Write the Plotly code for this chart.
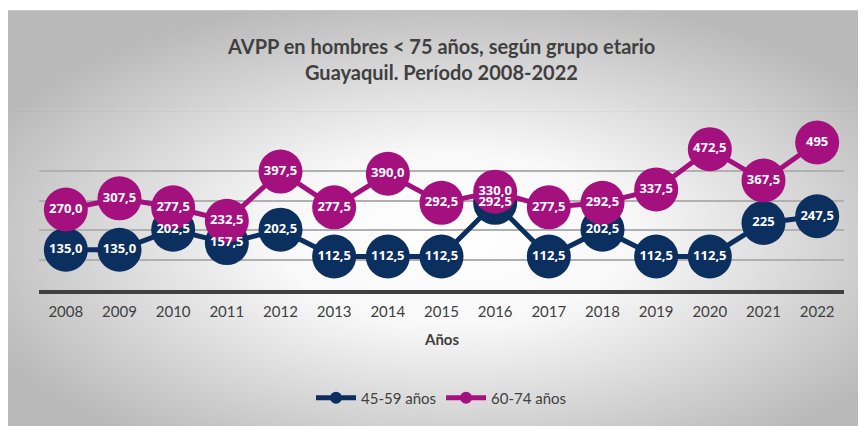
import base64
import plotly.graph_objects as go

years = ["2008", "2009", "2010", "2011", "2012", "2013", "2014", "2015",
         "2016", "2017", "2018", "2019", "2020", "2021", "2022"]
grupo_45_59 = [135.0, 135.0, 202.5, 157.5, 202.5, 112.5, 112.5, 112.5,
               292.5, 112.5, 202.5, 112.5, 112.5, 225.0, 247.5]
grupo_60_74 = [270.0, 307.5, 277.5, 232.5, 397.5, 277.5, 390.0, 292.5,
               330.0, 277.5, 292.5, 337.5, 472.5, 367.5, 495.0]
labels_45_59 = ["135,0", "135,0", "202,5", "157,5", "202,5", "112,5", "112,5", "112,5",
                "292,5", "112,5", "202,5", "112,5", "112,5", "225", "247,5"]
labels_60_74 = ["270,0", "307,5", "277,5", "232,5", "397,5", "277,5", "390,0", "292,5",
                "330,0", "277,5", "292,5", "337,5", "472,5", "367,5", "495"]
series_names = ["45-59 años", "60-74 años"]
title_lines = ["AVPP en hombres < 75 años, según grupo etario", "Guayaquil. Período 2008-2022"]

BLUE = "#0b2f5e"
PINK = "#a5107f"
TXT = "#404040"
FONT = "Lato, 'Open Sans', sans-serif"

OFF = 8  # default page body margin
W, H = 866 - OFF, 426 - OFF
PL, PR, PT, PB = 39, 844, 141, 290  # plot area in page pixels
L, T = PL - OFF, PT - OFF
R, B = W - (PR - OFF), H - (PB - OFF)
pw, ph = W - L - R, H - T - B

def px2x(p):
    return (p - OFF - L) / pw

def py2y(p):
    return (H - B - (p - OFF)) / ph

fig = go.Figure()
for vals, name, col in [(grupo_45_59, series_names[0], BLUE), (grupo_60_74, series_names[1], PINK)]:
    fig.add_trace(go.Scatter(
        x=years, y=vals, name=name, mode="lines+markers",
        line=dict(color=col, width=5),
        marker=dict(color=col, size=44),
        cliponaxis=False, hoverinfo="skip"))
for vals, labs in [(grupo_45_59, labels_45_59), (grupo_60_74, labels_60_74)]:
    fig.add_trace(go.Scatter(
        x=years, y=vals, text=labs, mode="text", showlegend=False,
        textfont=dict(color="white", size=13, family="'Open Sans', sans-serif", weight="bold"),
        textposition="middle center", cliponaxis=False, hoverinfo="skip"))

svg = '''<svg xmlns="http://www.w3.org/2000/svg" width="861" height="416" viewBox="0 0 861 416" preserveAspectRatio="none">
<defs><radialGradient id="g" cx="52%" cy="55%" r="60%">
<stop offset="0%" stop-color="#ffffff"/><stop offset="35%" stop-color="#f8f8f8"/>
<stop offset="100%" stop-color="#b9b9b9"/></radialGradient></defs>
<rect x="0" y="0" width="861" height="416" fill="url(#g)"/>
<rect x="0" y="0" width="861" height="1.5" fill="#c4c4c4"/>
<rect x="5" y="101" width="845" height="1" fill="#000000" fill-opacity="0.03"/>
</svg>'''
src = "data:image/svg+xml;base64," + base64.b64encode(svg.encode()).decode()

fig.add_layout_image(dict(
    source=src, xref="paper", yref="paper",
    x=px2x(5), y=py2y(10), sizex=861 / pw, sizey=416 / ph,
    xanchor="left", yanchor="top", sizing="stretch", layer="below"))

for txt, yp in zip(title_lines, [46, 72]):
    fig.add_annotation(text=f"<b>{txt}</b>", xref="paper", yref="paper",
                       x=px2x(441), y=py2y(yp), xanchor="center", yanchor="middle",
                       showarrow=False, font=dict(size=20, color=TXT, family=FONT))

fig.add_annotation(text="<b>Años</b>", xref="paper", yref="paper",
                   x=px2x(441), y=py2y(339), xanchor="center", yanchor="middle",
                   showarrow=False, font=dict(size=15, color=TXT, family=FONT))

fig.update_layout(
    width=W, height=H,
    margin=dict(l=L, r=R, t=T, b=B, autoexpand=False),
    paper_bgcolor="white", plot_bgcolor="rgba(0,0,0,0)",
    font=dict(family=FONT, color=TXT, size=15),
    xaxis=dict(type="category", range=[-0.5, 14.5], showgrid=False,
               showline=True, linecolor="#404040", linewidth=4,
               ticks="", tickfont=dict(size=15, color=TXT), automargin=False,
               ticklabelstandoff=5),
    yaxis=dict(range=[0, 500], dtick=100, showticklabels=False, automargin=False,
               showgrid=True, gridcolor="#b0b0b0", gridwidth=1.5, zeroline=False),
    legend=dict(orientation="h", x=0.5, xanchor="center", y=py2y(398), yanchor="middle",
                bgcolor="rgba(0,0,0,0)", font=dict(size=15, color=TXT),
                itemsizing="constant", itemwidth=40),
)

fig.write_html("out.html")
